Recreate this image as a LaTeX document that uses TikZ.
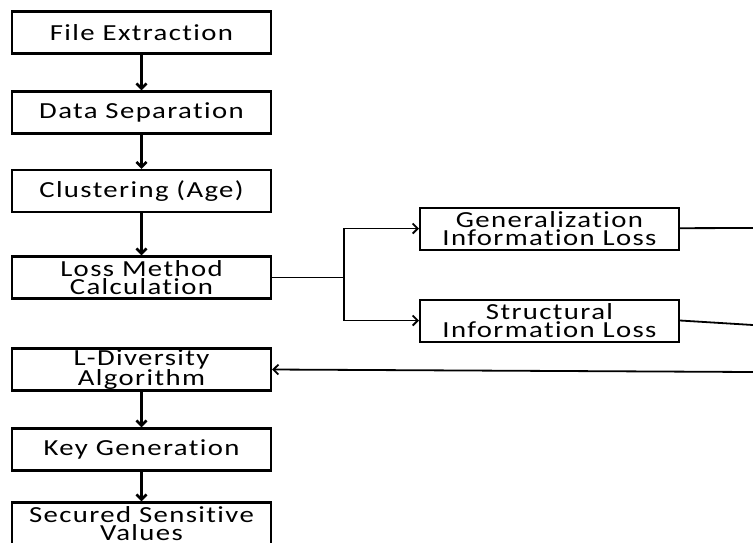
\documentclass[tikz,border=0pt]{standalone}
\usepackage{fontspec}
\setmainfont{Carlito}[FakeStretch=1.25,LetterSpace=6,Ligatures=NoCommon]
\usetikzlibrary{arrows.meta}
\tikzset{>={Straight Barb[length=5pt,width=10pt]}}
\tikzset{
  box/.style = {draw,line width=2.4pt,minimum width=259pt,minimum height=42pt,
    inner sep=0pt,align=center,font=\fontsize{23}{18}\selectfont},
  sidebox/.style = {box,line width=2pt}
}

\begin{document}
\begin{tikzpicture}[x=1pt,y=-1pt]
  \clip (0,0) rectangle (753,542);
  \node[box] (file)  at (141.5,32.5)  {File Extraction};
  \node[box] (sep)   at (141.5,112.5) {Data Separation};
  \node[box] (clust) at (141.5,191)   {Clustering (Age)};
  \node[box] (loss)  at (141.5,277.5) {Loss Method\\Calculation};
  \node[box] (ldiv)  at (141.5,369.5) {L-Diversity\\Algorithm};
  \node[box] (key)   at (141.5,449.5) {Key Generation};
  \node[box] (secure) at (141.5,523.5) {Secured Sensitive\\Values};
  \node[sidebox] (gen)    at (549.5,228.5) {Generalization\\Information Loss};
  \node[sidebox] (struct) at (549.5,320.5) {Structural\\Information Loss};
  \coordinate (split) at (344,277.5);
  \coordinate (gen-end) at (753,228);
  \coordinate (struct-end) at (753,325);
  \coordinate (back) at (753,372);
  \draw[->,line width=2.6pt] (file) -- (sep);
  \draw[->,line width=2.6pt] (sep) -- (clust);
  \draw[->,line width=2.6pt] (clust) -- (loss);
  \draw[->,line width=2.6pt] (ldiv) -- (key);
  \draw[->,line width=2.6pt] (key) -- (secure);
  \draw[line width=1.8pt] (loss) -- (split);
  \draw[->,line width=1.8pt] (split) |- (gen);
  \draw[->,line width=1.8pt] (split) |- (struct);
  \draw[line width=1.8pt] (gen) -- (gen-end);
  \draw[line width=1.8pt] (struct.east) -- (struct-end);
  \draw[->,line width=1.8pt] (back) -- (ldiv.east);
\end{tikzpicture}
\end{document}
